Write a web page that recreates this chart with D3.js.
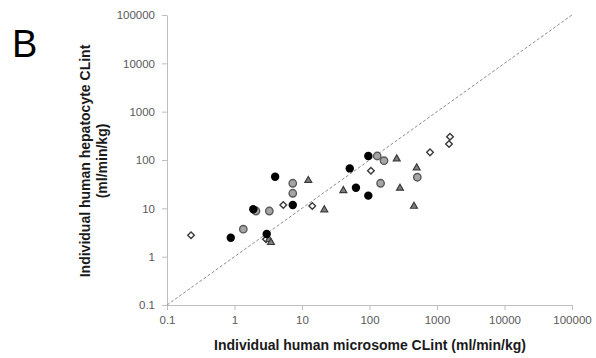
<!DOCTYPE html>
<html>
<head>
<meta charset="utf-8">
<script src="https://cdn.jsdelivr.net/npm/d3@7"></script>
<style>
  body { margin: 0; background: #fff; }
  text { font-family: "Liberation Sans", Arial, sans-serif; }
</style>
</head>
<body>
<svg id="chart" width="596" height="358"></svg>
<script>
// values: [microsome CLint, hepatocyte CLint]
let blackCircles = [[0.88, 2.47], [1.9, 9.55], [3.0, 2.94], [4.0, 45], [7.3, 11.7],
                    [51, 67], [63, 26.7], [96, 121], [96, 18.3]];
let grayCircles = [[1.35, 3.7], [2.08, 8.8], [3.28, 8.8], [7.3, 33], [7.3, 20.5],
                   [130, 121], [164, 97], [146, 33], [511, 44]];
let triangles = [[3.24, 2.32], [3.47, 2.01], [12.4, 38.6], [21.4, 9.55], [41, 23.9],
                 [253, 108], [283, 26.7], [500, 70.6], [456, 11.3]];
let diamonds = [[0.227, 2.77], [2.93, 2.29], [5.28, 11.7], [14.2, 11.2], [105, 60],
                [788, 144], [1506, 214], [1558, 303]];
let tickValues = [0.1, 1, 10, 100, 1000, 10000, 100000];

let svg = d3.select("svg#chart");

let x = d3.scaleLog().domain([0.1, 100000]).range([167, 572]);
let y = d3.scaleLog().domain([0.1, 100000]).range([305, 15]);

// axes
let xAxis = svg.append("g")
  .attr("transform", "translate(0,305)")
  .call(d3.axisBottom(x).tickValues(tickValues).tickFormat(d3.format("")).tickSize(5).tickSizeOuter(0));
let yAxis = svg.append("g")
  .attr("transform", "translate(167,0)")
  .call(d3.axisLeft(y).tickValues(tickValues).tickFormat(d3.format("")).tickSize(5).tickSizeOuter(0));

[xAxis, yAxis].forEach(function(a) {
  a.select(".domain").attr("stroke", "#bfbfbf");
  a.selectAll(".tick line").attr("stroke", "#bfbfbf");
  a.selectAll(".tick text")
    .attr("fill", "#595959")
    .style("font-size", "11.5px");
});
xAxis.selectAll(".tick text").attr("y", 11).attr("dy", "0.71em");
yAxis.selectAll(".tick text").attr("x", -12);

// identity line
svg.append("line")
  .attr("x1", x(0.1)).attr("y1", y(0.1))
  .attr("x2", x(100000)).attr("y2", y(100000))
  .attr("stroke", "#8c8c8c")
  .attr("stroke-width", 1)
  .attr("stroke-dasharray", "3,2");

// series
let stroke = "#3a3a3a";

svg.append("g").selectAll("path").data(diamonds).enter().append("path")
  .attr("d", d3.symbol().type(d3.symbolDiamond2).size(28))
  .attr("transform", function(d) { return "translate(" + x(d[0]) + "," + y(d[1]) + ")"; })
  .attr("fill", "#fff").attr("stroke", stroke).attr("stroke-width", 1.4);

svg.append("g").selectAll("path").data(triangles).enter().append("path")
  .attr("d", d3.symbol().type(d3.symbolTriangle2).size(34))
  .attr("transform", function(d) { return "translate(" + x(d[0]) + "," + (y(d[1]) + 0.5) + ")"; })
  .attr("fill", "#7f7f7f").attr("stroke", stroke).attr("stroke-width", 1.2);

svg.append("g").selectAll("circle").data(grayCircles).enter().append("circle")
  .attr("cx", function(d) { return x(d[0]); })
  .attr("cy", function(d) { return y(d[1]); })
  .attr("r", 3.7)
  .attr("fill", "#a6a6a6").attr("stroke", "#595959").attr("stroke-width", 1.4);

svg.append("g").selectAll("circle").data(blackCircles).enter().append("circle")
  .attr("cx", function(d) { return x(d[0]); })
  .attr("cy", function(d) { return y(d[1]); })
  .attr("r", 4.2)
  .attr("fill", "#000");

// titles
svg.append("text")
  .attr("x", 370).attr("y", 350)
  .attr("text-anchor", "middle")
  .style("font-size", "14px").style("font-weight", "bold")
  .attr("fill", "#1a1a1a")
  .text("Individual human microsome CLint (ml/min/kg)");

let yTitle = svg.append("text")
  .attr("transform", "translate(0,161) rotate(-90)")
  .attr("text-anchor", "middle")
  .style("font-size", "14px").style("font-weight", "bold")
  .attr("fill", "#1a1a1a");
yTitle.append("tspan").attr("x", 0).attr("y", 90).text("Individual human hepatocyte CLint");
yTitle.append("tspan").attr("x", 0).attr("y", 107).text("(ml/min/kg)");

svg.append("text")
  .attr("x", 12).attr("y", 57)
  .style("font-size", "38px")
  .attr("fill", "#000")
  .text("B");
</script>
</body>
</html>
